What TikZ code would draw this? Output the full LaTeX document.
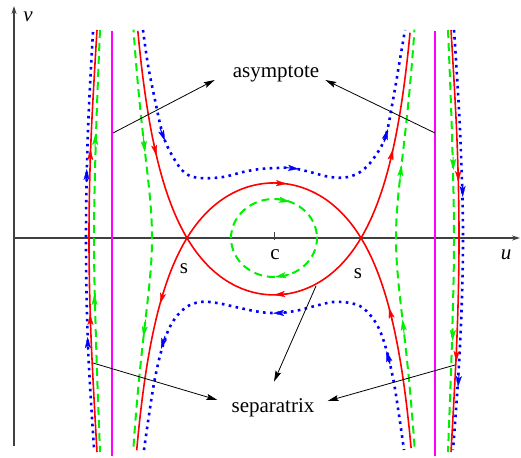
\documentclass[tikz,border=0pt]{standalone}
\usepackage{fontspec}
\setmainfont{Liberation Serif}
\usetikzlibrary{arrows.meta,calc,positioning}
\definecolor{sepred}{HTML}{FF0000}
\definecolor{flowgreen}{HTML}{00EE00}
\definecolor{flowblue}{HTML}{0000FF}
\definecolor{asymmag}{HTML}{FF00FF}

\tikzset{
	flowtip/.tip={Stealth[length=11pt,width=6pt,inset=2.5pt,line width=0.3pt]},
	sepline/.style={sepred,line width=1.6pt},
	greenflow/.style={flowgreen,line width=2pt,dash pattern=on 8pt off 5pt},
	blueflow/.style={flowblue,line width=2.6pt,dash pattern=on 2.6pt off 4.4pt},
	flowarrow/.style={solid,line width=1pt,-{flowtip}},
	asymline/.style={asymmag,line width=1.5pt},
	axisline/.style={black!75,line width=1.2pt,-{Stealth[length=8pt,width=5pt]}},
	pointer/.style={black,line width=0.8pt,-{Stealth[length=11pt,width=6pt,inset=2pt]}},
	lbl/.style={font=\fontsize{21}{25}\selectfont,inner sep=0pt}
}

\begin{document}
\begin{tikzpicture}[x=1pt,y=-1pt,
		declare function={sepv(\u)=(0.7569-\u*\u)/pow(2.6244-\u*\u,0.75);
			gm(\t)=1.22+0.185*\t*\t;
			gv(\t)=\t*sqrt(0.185*(1.22+gm(\t))*(gm(\t)*gm(\t)-0.0254))/pow(2.6244-gm(\t)*gm(\t),0.75);}]
		\useasboundingbox (0,0) rectangle (521,457);
		\newcommand{\blueHigh}{(143,30) (148,65) (155,100) (163,135) (173,157) (185,173) (200,178) (223,177) (243,172) (260,169) (277,168) (292,168) (310,172) (330,177) (348,177) (363,170) (376,155) (386,135) (393,100) (399,65) (405,30)}
		\newcommand{\blueLow}{(144,450) (149,415) (155,378) (163,345) (172,323) (185,308) (200,302) (217,303) (240,308) (260,312) (277,313) (295,311) (315,306) (333,302) (350,303) (363,308) (376,323) (385,345) (393,378) (399,415) (404,450)}
		
		% axes
		\draw[axisline] (14,446) -- (14,6);
		\draw[axisline] (14,238) -- (520,238);
		\draw[black!75,line width=1pt] (274,232) -- (274,240);
		\node[lbl,font=\fontsize{21}{25}\selectfont\itshape] (vlab) at (28,17) {v};
		\node[lbl,font=\fontsize{21}{25}\selectfont\itshape] (ulab) at (506,255) {u};
		
		% asymptotes
		\draw[asymline] (112,31) -- (112,456);
		\draw[asymline] (435,31) -- (435,456);
		
		% green orbits
		\draw[greenflow] plot[domain=0:354,samples=60,smooth cycle] ({274+43*cos(\x)},{238-39*sin(\x)});
		\draw[greenflow] plot[domain=-1:1,samples=81,smooth,variable=\t] ({274-100*gm(\t)},{238-155.3*gv(\t)});
		\draw[greenflow] plot[domain=-1:1,samples=81,smooth,variable=\t] ({274+100*gm(\t)},{238-155.3*gv(\t)});
		\draw[greenflow] plot[smooth,tension=0.6] coordinates{(100,30) (96,135) (94,238) (96,340) (100,452)};
		\draw[greenflow] plot[smooth,tension=0.6] coordinates{(448,30) (452,135) (454,238) (452,340) (448,452)};
		\foreach \xa/\ya/\xb/\yb in {276/199/290/201.8, 289/274.5/275/277, 143/134.4/145/152.1, 145.5/319.5/143.5/337.1, 399.5/183.1/401.5/165.2, 404.5/337.1/402.5/319.5, 95.1/147/95.4/134, 94.6/307/94.4/294, 453.1/157/453.4/170, 452.9/328/452.6/341}
			\draw[greenflow,flowarrow] (\xa,\ya) -- (\xb,\yb);
		
		% blue orbits
		\draw[blueflow] plot[smooth,tension=0.6] coordinates{\blueHigh};
		\draw[blueflow] plot[smooth,tension=0.6] coordinates{\blueLow};
		\draw[blueflow] plot[smooth,tension=0.6] coordinates{(93,32) (88,130) (86,238) (88,346) (94,448)};
		\draw[blueflow] plot[smooth,tension=0.6] coordinates{(454,30) (460,130) (463,238) (460,346) (453,450)};
		\foreach \xa/\ya/\xb/\yb in {160/128/165/141, 285/167.5/299/169, 384/142/388/129, 165/336/161/349, 287/312.8/273/313.2, 390/364/386.5/351, 86.5/182/86.75/169, 88/350/87.6/337, 462.5/184/462.7/197, 459/374/458/387}
			\draw[blueflow,flowarrow] (\xa,\ya) -- (\xb,\yb);
		
		% separatrices
		\draw[sepline] plot[domain=-1.362:1.362,samples=161,smooth] ({274+100*\x},{238+155*sepv(\x)});
		\draw[sepline] plot[domain=-1.373:1.373,samples=161,smooth] ({274+100*\x},{238-150*sepv(\x)});
		\draw[sepline] plot[smooth,tension=0.6] coordinates{(97,30) (91,140) (89,238) (91,336) (97,452)};
		\draw[sepline] plot[smooth,tension=0.6] coordinates{(451,30) (457,140) (459,238) (457,336) (451,452)};
		\foreach \xa/\ya/\xb/\yb in {153.5/142.4/156.5/155.9, 288/293.7/274/294.9, 390/162.1/393/149.3, 164/290.4/160/303.9, 273/182.9/287/183.9, 392.5/321.6/389/307.6, 90.1/162/90.5/149, 90.5/327/90.1/314, 458.1/169/458.4/182, 456.7/349/456.2/362}
			\draw[sepline,flowarrow] (\xa,\ya) -- (\xb,\yb);
		
		% labels
		\node[lbl] (sL) at (184,269) {s};
		\node[lbl] (sR) at (358,274) {s};
		\node[lbl] (clab) at (275,255) {c};
		\node[lbl] (asym) at (276,74) {asymptote};
		\node[lbl] (sepx) at (273,408) {separatrix};
		
		\coordinate (asymL) at (113,133);
		\coordinate (asymR) at (435,133);
		\coordinate (sepOL) at (93,363);
		\coordinate (sepOR) at (455,365);
		\coordinate (sepIn) at (316,286);
		\draw[pointer] (asymL) -- ($(asym.west)+(-18,6)$);
		\draw[pointer] (asymR) -- ($(asym.east)+(6,6)$);
		\draw[pointer] (sepOL) -- ($(sepx.west)+(-14,-8)$);
		\draw[pointer] (sepOR) -- ($(sepx.east)+(13,-7)$);
		\draw[pointer] (sepIn) -- ($(sepx.north)+(1,-17)$);
	\end{tikzpicture}
\end{document}
